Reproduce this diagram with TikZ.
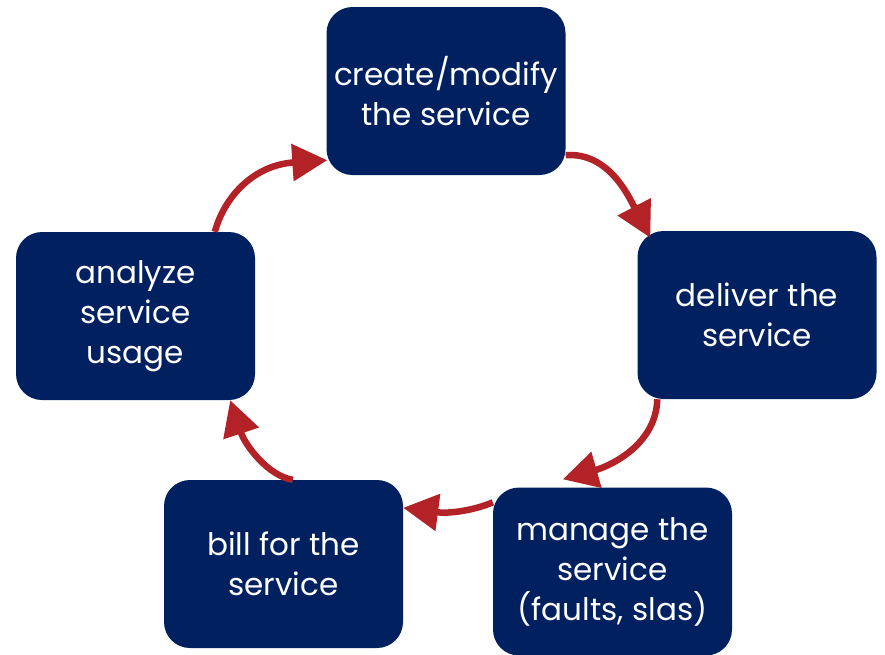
\documentclass[tikz,border=0pt]{standalone}
\usepackage{fontspec}
\setmainfont{Poppins}
\usetikzlibrary{arrows.meta,calc}
\definecolor{navy}{RGB}{0,32,96}
\definecolor{arrowred}{RGB}{178,34,38}
\tikzset{
  box/.style={fill=navy, rounded corners=26pt, minimum width=239pt, minimum height=168pt,
    inner sep=0pt, text=white, align=center, font=\fontsize{31}{40}\selectfont},
  flow/.style={draw=arrowred, line width=6.5pt, -{Triangle[length=35pt,width=36pt]}}
}
\begin{document}
\begin{tikzpicture}[x=1pt,y=-1pt]
\useasboundingbox (0,0) rectangle (885,654);
\node[box] (c) at (446,91) {create/modify\\the service};
\node[box] (d) at (757,315) {deliver the\\service};
\node[box] (m) at (612.5,571.5) {manage the\\service\\(faults, slas)};
\node[box] (b) at (283.5,564) {bill for the\\service};
\node[box] (a) at (135.5,316) {analyze\\service\\usage};
\draw[flow] ($(c.south east)+(0,-20)$) .. controls (608,152) and (628,195) .. ($(d.north west)+(13,7)$);
\draw[flow] ($(d.south west)+(20,0)$) .. controls (656,445) and (610,466) .. ($(m.north west)+(70,-8)$);
\draw[flow] ($(m.north west)+(0,15)$) .. controls (475,510) and (450,514) .. ($(b.north east)+(0,28)$);
\draw[flow] ($(b.north west)+(129,0)$) .. controls (268,476) and (245,445) .. ($(a.south east)+(-25,0)$);
\draw[flow] ($(a.north west)+(199,0)$) .. controls (225,195) and (255,165) .. ($(c.south west)+(1,-15)$);
\end{tikzpicture}
\end{document}
